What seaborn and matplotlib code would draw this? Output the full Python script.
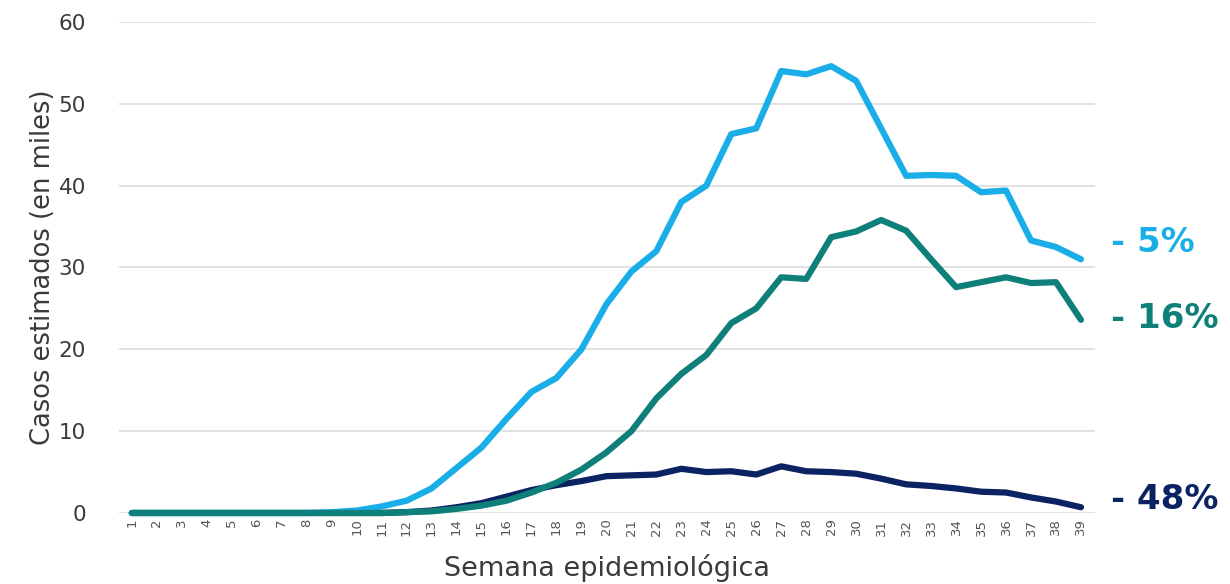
import pandas as pd
import seaborn as sns
from matplotlib import pyplot as plt

sns.set_theme(style="white")
plt.rcParams['font.family'] = ['DejaVu Sans']

# semanas epidemiológicas y casos estimados (miles)
semanas = list(range(1, 40))
serie_a = [0, 0, 0, 0, 0, 0, 0, 0, 0.1,
           0.3, 0.8, 1.5, 3.0, 5.5, 8.0, 11.5, 14.8, 16.5, 20.0,
           25.5, 29.5, 32.0, 38.0, 40.0, 46.3, 47.0, 54.0, 53.6, 54.6,
           52.8, 47.0, 41.2, 41.3, 41.2, 39.2, 39.4, 33.3, 32.5, 31.0]
serie_b = [0, 0, 0, 0, 0, 0, 0, 0, 0, 0, 0, 0.1,
           0.2, 0.5, 0.9, 1.5, 2.5, 3.7, 5.3, 7.4, 10.0, 14.0, 17.0,
           19.3, 23.2, 25.0, 28.8, 28.6, 33.7, 34.4, 35.8, 34.5, 31.0,
           27.6, 28.2, 28.8, 28.1, 28.2, 23.6]
serie_c = [0, 0, 0, 0, 0, 0, 0, 0, 0, 0, 0, 0.1,
           0.3, 0.7, 1.2, 2.0, 2.8, 3.4, 3.9, 4.5, 4.6, 4.7, 5.4,
           5.0, 5.1, 4.7, 5.7, 5.1, 5.0, 4.8, 4.2, 3.5, 3.3,
           3.0, 2.6, 2.5, 1.9, 1.4, 0.7]
etiquetas = ["- 5%", "- 16%", "- 48%"]
nombres = ["a", "b", "c"]
colores = {"a": "#1aaee8", "b": "#0f7f7a", "c": "#0b2263"}

df = pd.DataFrame({
    "semana": semanas * 3,
    "casos": serie_a + serie_b + serie_c,
    "serie": ["a"] * 39 + ["b"] * 39 + ["c"] * 39,
})

fig = plt.figure(figsize=(12.3, 5.84), dpi=100)
ax = fig.add_axes([0.097, 0.1216, 0.793, 0.8408])

sns.lineplot(data=df, x="semana", y="casos", hue="serie",
             hue_order=["c", "a", "b"], palette=colores, linewidth=4.5,
             legend=False, ax=ax, solid_capstyle="round", clip_on=False)

ax.set_xlim(0.5, 39.55)
ax.set_ylim(0, 60)
ax.set_yticks(range(0, 61, 10))
ax.set_xticks(semanas)
ax.set_xticklabels([str(s) for s in semanas], rotation=90, fontsize=9.5, color="#555555")
ax.tick_params(axis="y", labelsize=15.5, colors="#3a3a3a", pad=24, length=0)
ax.tick_params(axis="x", pad=4, length=0)
ax.yaxis.grid(True, color="#dcdcdc", linewidth=1.2)
ax.set_axisbelow(True)
for s in ax.spines.values():
    s.set_visible(False)

ax.set_xlabel("Semana epidemiológica", fontsize=19.5, color="#3a3a3a", labelpad=13)
ax.set_ylabel("Casos estimados (en miles)", fontsize=18.5, color="#3a3a3a", labelpad=2)

ultimos = [serie_a[-1] + 2.0, serie_b[-1] + 0.2, serie_c[-1] + 1.0]
for nom, lab, yv in zip(nombres, etiquetas, ultimos):
    ax.text(1.017, yv, lab, transform=ax.get_yaxis_transform(), fontsize=24.5,
            fontweight="bold", color=colores[nom], va="center", ha="left")

fig.savefig("out.png", dpi=100)
